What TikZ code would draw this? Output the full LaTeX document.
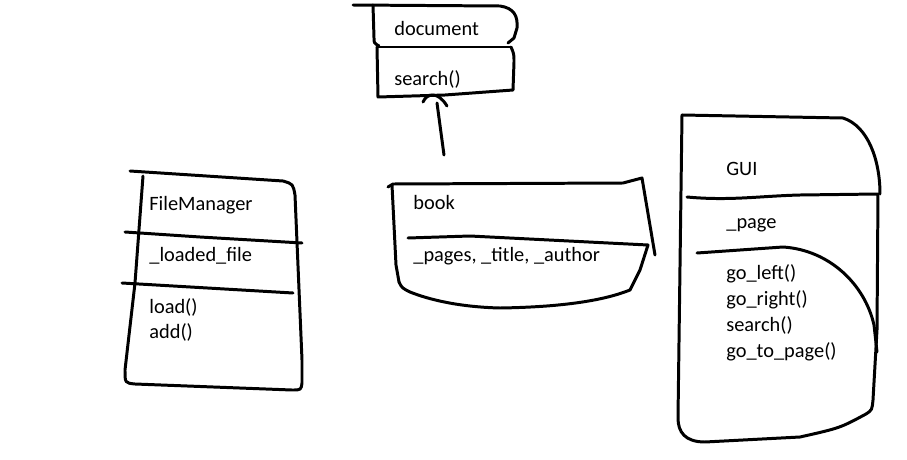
\documentclass[tikz,border=0pt]{standalone}
\usepackage{fontspec}
\setmainfont{Carlito}

\begin{document}
\begin{tikzpicture}[x=0.02cm, y=-0.02cm,
  sketch/.style={line width=1.7pt, line cap=round, line join=round},
  classtext/.style={anchor=base west, inner sep=0pt, font=\fontsize{11.6pt}{13pt}\selectfont}]%
\useasboundingbox (0,0) rectangle (907,460);%
% document
\draw[sketch] (353,5) -- (500,6) .. controls (514,8) and (518,16) .. (517,28) -- (514,38) -- (508,43);%
\draw[sketch] (373,5) -- (374,38) .. controls (374,43) .. (379,46);%
\draw[sketch] (377,47) -- (511,47);%
\draw[sketch] (377,47) -- (378,97) -- (445,95) -- (513,90) -- (514,62) .. controls (514,54) .. (511,47);%
\node[classtext] (doctitle) at (394,35) {document};%
\node[classtext] (docsearch) at (394,85) {search()};%
% arrow from book up to document
\coordinate (hooktop) at (437,103);%
\coordinate (hookfoot) at (444,155);%
\draw[sketch] (hookfoot) -- (hooktop);%
\draw[sketch] (423,102) .. controls (427,93) and (438,91) .. (447,106);%
% FileManager
\draw[sketch] (130,171) -- (283,181) .. controls (293,184) .. (295,195) -- (302,360) -- (302,383) .. controls (301,390) .. (292,390) -- (135,384) .. controls (125,383) .. (125,370) -- (135,283) -- (143,176);%
\draw[sketch] (125,232) -- (200,237) -- (302,243);%
\draw[sketch] (122,283) -- (293,293);%
\node[classtext] (fmtitle) at (149,210) {FileManager};%
\node[classtext] (fmfield) at (149,261) {\_loaded\_file};%
\node[classtext] (fmload) at (149,313) {load()};%
\node[classtext] (fmadd) at (149,338) {add()};%
% book
\draw[sketch] (388,187) -- (393,184) -- (623,183) -- (642,178) -- (655,255);%
\draw[sketch] (392,185) -- (396,265) -- (399,282);%
\draw[sketch] (408,238) -- (470,236) -- (648,245) -- (640,270) -- (630,290) .. controls (605,300) and (565,307) .. (500,308) .. controls (460,307) and (430,300) .. (410,292) .. controls (402,288) .. (399,282);%
\node[classtext] (booktitle) at (413,209) {book};%
\node[classtext] (bookfields) at (413,261) {\_pages, \_title, \_author};%
% GUI
\draw[sketch] (682,115) -- (843,118) .. controls (868,126) and (880,160) .. (880,194);%
\draw[sketch] (687,197) .. controls (730,201) and (760,196) .. (800,195) -- (878,194) -- (877,330) -- (873,400) .. controls (872,410) .. (866,414) .. controls (840,428) .. (800,437) -- (705,442) .. controls (685,442) and (678,432) .. (678,418) -- (682,115);%
\draw[sketch] (697,253) -- (783,247) .. controls (830,250) and (865,285) .. (874,325) -- (877,352);%
\node[classtext] (guititle) at (726,175) {GUI};%
\node[classtext] (guifield) at (726,228) {\_page};%
\node[classtext] (guileft) at (726,279) {go\_left()};%
\node[classtext] (guiright) at (726,305) {go\_right()};%
\node[classtext] (guisearch) at (726,331) {search()};%
\node[classtext] (guigoto) at (726,357) {go\_to\_page()};%
\end{tikzpicture}
\end{document}
